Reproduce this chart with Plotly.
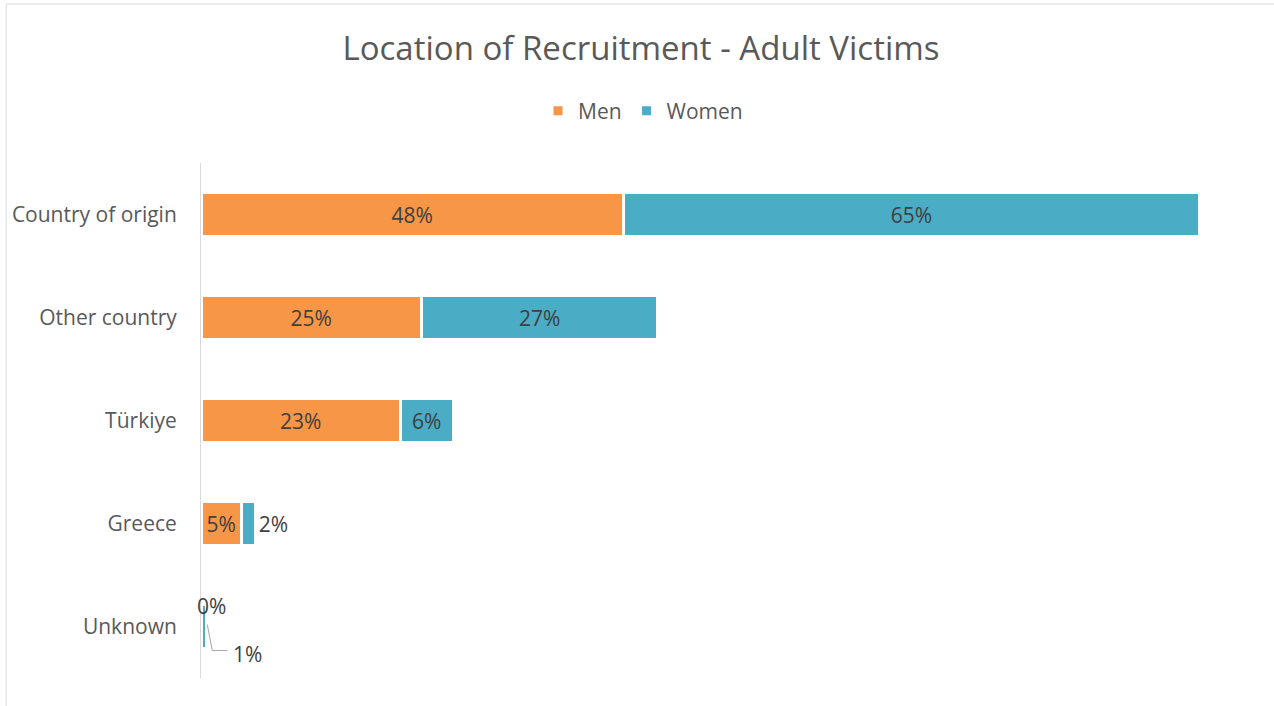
import plotly.graph_objects as go

categories = ["Country of origin", "Other country", "Türkiye", "Greece", "Unknown"]
men = [47.9, 25.0, 22.6, 4.6, 0.0]
women = [65.3, 26.8, 6.0, 1.6, 0.6]

men_pos = ["inside", "inside", "inside", "inside", "none"]
women_pos = ["inside", "inside", "inside", "outside", "none"]

FONT = "Open Sans"
ORANGE = "#F79646"
TEAL = "#4BACC6"
LABEL = "#404040"
FS = 21

fig = go.Figure()
fig.add_trace(go.Bar(
    y=categories, x=men, name="Men", orientation="h",
    marker=dict(color=ORANGE, line=dict(color="white", width=3)),
    texttemplate="%{x:.0f}%", textposition=men_pos, insidetextanchor="middle",
    textfont=dict(family=FONT, size=FS, color=LABEL), constraintext="none",
))
fig.add_trace(go.Bar(
    y=categories, x=women, name="Women", orientation="h",
    marker=dict(color=TEAL, line=dict(color="white", width=3)),
    texttemplate="%{x:.0f}%", textposition=women_pos, insidetextanchor="middle",
    textfont=dict(family=FONT, size=FS, color=LABEL), constraintext="none",
))

# Labels for the "Unknown" row (drawn outside the tiny bars)
fig.add_annotation(x=men[4], y=categories[4], xref="x", yref="y",
                   text=f"{men[4]:.0f}%", showarrow=False, xshift=10, yshift=21,
                   font=dict(family=FONT, size=FS, color=LABEL))
fig.add_annotation(x=men[4] + women[4], y=categories[4], xref="x", yref="y",
                   text=f"{women[4]:.0f}%", showarrow=False, xanchor="left",
                   xshift=25, yshift=-27,
                   font=dict(family=FONT, size=FS, color=LABEL))
fig.add_shape(type="path", xref="x", yref="y", xsizemode="pixel", ysizemode="pixel",
              xanchor=men[4] + women[4], yanchor=4,
              path="M 1,2 L 6,-24 L 21,-24", line=dict(color="#A6A6A6", width=1))

# Chart border
fig.add_shape(type="rect", xref="paper", yref="paper",
              x0=-0.185, x1=1.2, y0=-0.2, y1=1.3087,
              line=dict(color="#D9D9D9", width=1), fillcolor="rgba(0,0,0,0)", layer="below")

fig.update_layout(
    width=1274, height=706,
    margin=dict(l=201, r=20, t=163, b=28),
    paper_bgcolor="white", plot_bgcolor="white",
    barmode="stack", bargap=0.58,
    title=dict(text="Location of Recruitment - Adult Victims",
               x=641 / 1274, xref="container", xanchor="center",
               y=1 - 48 / 706, yref="container", yanchor="middle",
               font=dict(family=FONT, size=33, color="#595959")),
    legend=dict(orientation="h", xref="container", x=643 / 1274, xanchor="center",
                yref="container", y=1 - 111 / 706, yanchor="middle",
                font=dict(family=FONT, size=FS, color="#595959"),
                itemclick=False, traceorder="normal"),
    showlegend=True,
    font=dict(family=FONT, color="#595959"),
)
fig.update_xaxes(range=[0, 119.4], visible=False)
fig.update_yaxes(autorange="reversed", showline=True, linecolor="#D9D9D9", linewidth=1,
                 ticks="", ticklabelstandoff=19, showgrid=False,
                 tickfont=dict(family=FONT, size=FS, color="#595959"))

fig.write_html("out.html", config={"displayModeBar": False},
               post_script="document.body.style.margin='0';document.body.style.overflow='hidden';")
